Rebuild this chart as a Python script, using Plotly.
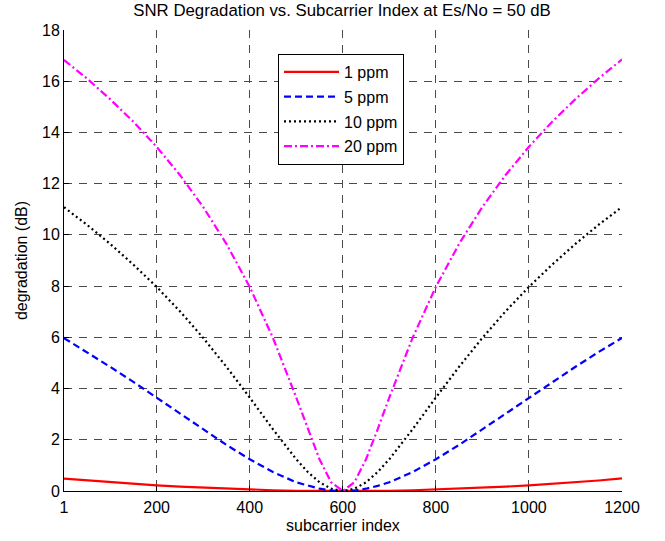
import plotly.graph_objects as go

subcarrier = [1, 50, 100, 150, 200, 250, 300, 350, 400, 450, 500, 525, 550, 575,
              600, 625, 650, 675, 700, 750, 800, 850, 900, 950, 1000, 1050, 1100, 1150, 1200]

deg_1ppm = [0.48, 0.41, 0.34, 0.28, 0.22, 0.17, 0.13, 0.09, 0.06, 0.03, 0.01, 0.01, 0.00, 0.00,
            0.00, 0.00, 0.00, 0.01, 0.01, 0.03, 0.06, 0.09, 0.13, 0.17, 0.22, 0.28, 0.34, 0.41, 0.49]
deg_5ppm = [5.97, 5.43, 4.85, 4.26, 3.65, 3.03, 2.41, 1.80, 1.24, 0.74, 0.34, 0.20, 0.09, 0.02,
            0.00, 0.02, 0.09, 0.20, 0.34, 0.74, 1.24, 1.80, 2.41, 3.03, 3.65, 4.26, 4.85, 5.43, 5.98]
deg_10ppm = [11.08, 10.40, 9.65, 8.84, 7.97, 7.02, 5.98, 4.85, 3.65, 2.41, 1.24, 0.74, 0.34, 0.09,
             0.00, 0.09, 0.34, 0.74, 1.24, 2.41, 3.65, 4.85, 5.98, 7.02, 7.97, 8.84, 9.65, 10.40, 11.09]
deg_20ppm = [16.83, 16.11, 15.30, 14.42, 13.44, 12.34, 11.09, 9.65, 7.97, 5.98, 3.65, 2.41, 1.24, 0.34,
             0.00, 0.34, 1.24, 2.41, 3.65, 5.98, 7.97, 9.65, 11.09, 12.34, 13.44, 14.42, 15.30, 16.11, 16.85]

series_names = ["1 ppm", "5 ppm", "10 ppm", "20 ppm"]
x_ticks = [1, 200, 400, 600, 800, 1000, 1200]
y_ticks = [0, 2, 4, 6, 8, 10, 12, 14, 16, 18]

FONT = "Liberation Sans, Arial, Helvetica, sans-serif"

fig = go.Figure()
styles = [
    dict(color="#ff0000", width=2.2, dash="solid"),
    dict(color="#0000ff", width=2.2, dash="7px,4px"),
    dict(color="#000000", width=2.2, dash="2px,3px"),
    dict(color="#ff00ff", width=2.2, dash="8px,3px,2px,3px"),
]
for i, (name, ys, st) in enumerate(zip(series_names, [deg_1ppm, deg_5ppm, deg_10ppm, deg_20ppm], styles)):
    fig.add_trace(go.Scatter(x=subcarrier, y=ys, mode="lines", name=name, line=st,
                             legendgroup=f"g{i}"))

axis_common = dict(
    showline=True, linecolor="black", linewidth=1, mirror=False,
    ticks="inside", ticklen=5, tickcolor="black",
    showgrid=True, gridcolor="#4a4a4a", gridwidth=1, griddash="8px,7px",
    zeroline=False, tickfont=dict(size=16, color="black", family=FONT),
)

fig.update_layout(
    width=665, height=541,
    margin=dict(l=64, r=43, t=30, b=50),
    paper_bgcolor="white", plot_bgcolor="white",
    font=dict(family=FONT, size=16, color="black"),
    title=dict(text="SNR Degradation vs. Subcarrier Index at Es/No = 50 dB",
               x=0.5143, xanchor="center", y=0.9815, yanchor="middle",
               font=dict(size=16.8, family=FONT, color="black")),
    xaxis=dict(range=[1, 1200], tickvals=x_ticks, ticktext=[str(v) for v in x_ticks],
               ticklabelstandoff=2, **axis_common),
    yaxis=dict(range=[0, 18], tickvals=y_ticks,
               title=dict(text="degradation (dB)", standoff=10, font=dict(size=16)),
               **axis_common),
    legend=dict(x=0.3835, xanchor="left", y=0.9482, yanchor="top",
                bgcolor="white", bordercolor="black", borderwidth=1,
                font=dict(size=16, family=FONT), itemwidth=55, tracegroupgap=1),
    showlegend=True,
    annotations=[dict(text="subcarrier index", xref="paper", yref="paper", x=0.5, y=0,
                      yshift=-34, xanchor="center", yanchor="middle", showarrow=False,
                      font=dict(size=16, family=FONT, color="black"))],
)

fig.write_html("out.html", config={"displayModeBar": False},
               post_script="document.body.style.margin='0';document.body.style.padding='0';")
